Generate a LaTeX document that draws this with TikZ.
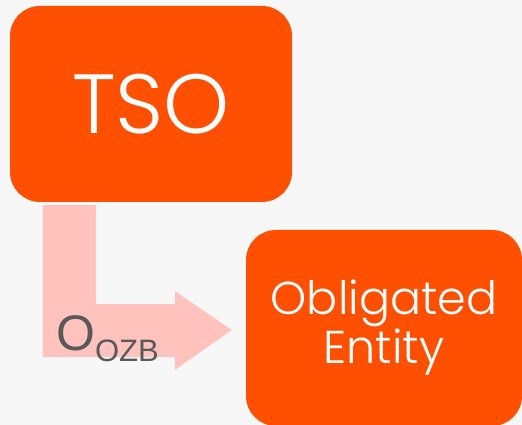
\documentclass[tikz,border=0pt]{standalone}
\usepackage{fontspec}
\setmainfont{Poppins Light}
\newfontfamily\labelfont{Liberation Sans}
\usetikzlibrary{positioning}
\definecolor{bggray}{HTML}{F7F7F7}
\definecolor{boxorange}{HTML}{FF4F00}
\definecolor{arrowpink}{HTML}{FFC2BC}
\definecolor{textgray}{HTML}{595959}
\tikzset{
  box/.style={fill=boxorange, rounded corners=30pt, text=white, inner sep=0pt, align=center},
}

\begin{document}
\begin{tikzpicture}[x=1pt,y=1pt]
% Background
\fill[bggray] (0,0) rectangle (522,425);
\useasboundingbox (0,0) rectangle (522,425);

% Boxes
\node[box, minimum width=282pt, minimum height=196pt, font=\fontsize{84}{84}\selectfont] (tso) at (151,321) {TSO};
\node[box, minimum width=276pt, minimum height=196pt, font=\fontsize{46}{49}\selectfont] (entity) at (384,97) {Obligated\\Entity};

% Bent arrow
\coordinate (a) at ([xshift=-108pt,yshift=-3pt]tso.south);
\coordinate (tip) at ([xshift=-14pt,yshift=-2pt]entity.west);
\fill[arrowpink] (a) -- ++(53,0) -- ++(0,-99) -- ++(79,0) -- ++(0,13)
  -- (tip) -- ++(-57,-40) -- ++(0,13) -- ++(-132,0) -- cycle;

% Label
\node[anchor=base west, inner sep=0pt, text=textgray, font=\labelfont\fontsize{50}{50}\selectfont] (oozb) at (56,74)
  {O\raisebox{-11pt}{\fontsize{31}{31}\selectfont OZB}};
\end{tikzpicture}
\end{document}
